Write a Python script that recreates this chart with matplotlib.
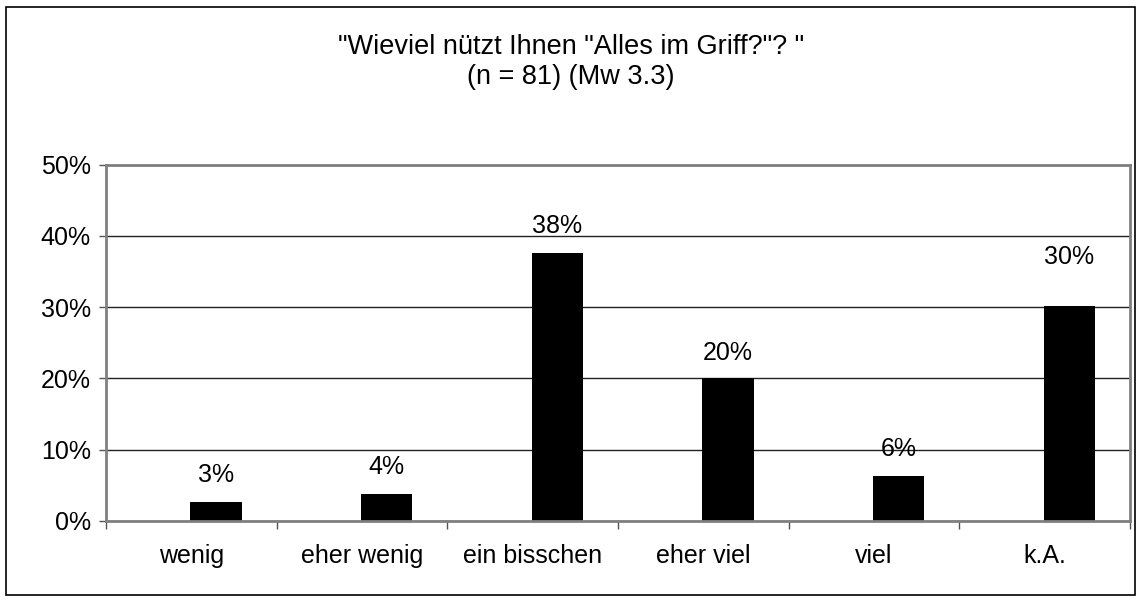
import matplotlib
matplotlib.use("Agg")
import matplotlib.pyplot as plt
from matplotlib.patches import Rectangle
import numpy as np

categories = ["wenig", "eher wenig", "ein bisschen", "eher viel", "viel", "k.A."]
values = [2.6, 3.75, 37.6, 20.0, 6.3, 30.2]
yticks = [0, 10, 20, 30, 40, 50]
title = '"Wieviel nützt Ihnen "Alles im Griff?"? "\n(n = 81) (Mw 3.3)'

# style
label_offsets = [19.5, 19.5, 19.5, 18.5, 19, 35]  # points above bar top
bar_offset = 0.144
bar_width = 0.30
fs = 18

plt.rcParams['font.family'] = ['Liberation Sans', 'DejaVu Sans']

fig = plt.figure(figsize=(11.42, 6.03), dpi=100)
ax = fig.add_axes([106/1142, 1 - 520.7/603, 1024/1142, 356/603])

x = np.arange(len(categories))
ax.bar(x + bar_offset, values, width=bar_width, color="black", zorder=3)

for xi, v, off in zip(x, values, label_offsets):
    ax.annotate(f"{v:.0f}%", (xi + bar_offset, v), xytext=(0, off),
                textcoords="offset points", ha="center", va="center",
                fontsize=fs, zorder=4)

ax.set_xlim(-0.5, len(categories) - 0.5)
ax.set_ylim(0, 50)
ax.set_yticks(yticks)
ax.set_yticklabels([f"{t}%" for t in yticks], fontsize=fs)
ax.yaxis.grid(True, color="#222222", linewidth=1.0, zorder=1)

ax.set_xticks(x)
ax.set_xticklabels(categories, fontsize=fs)
ax.set_xticks(np.arange(len(categories) + 1) - 0.5, minor=True)
ax.tick_params(axis="x", which="major", length=0, pad=16.5)
ax.tick_params(axis="x", which="minor", length=6, width=1, color="#555555")
ax.tick_params(axis="y", length=5, width=1, color="#555555", pad=6)

for s in ax.spines.values():
    s.set_color("#808080")
    s.set_linewidth(2)
ax.spines['bottom'].set_zorder(5)

fig.text(0.5, 1 - 62.5/603, title, ha="center", va="center", fontsize=19.5,
         linespacing=1.2)

fig.patches.append(Rectangle((6/1142, 1 - 595/603), 1129/1142, 588/603,
                             transform=fig.transFigure, fill=False,
                             edgecolor="black", linewidth=1.2))

fig.savefig("out.png", dpi=100)
